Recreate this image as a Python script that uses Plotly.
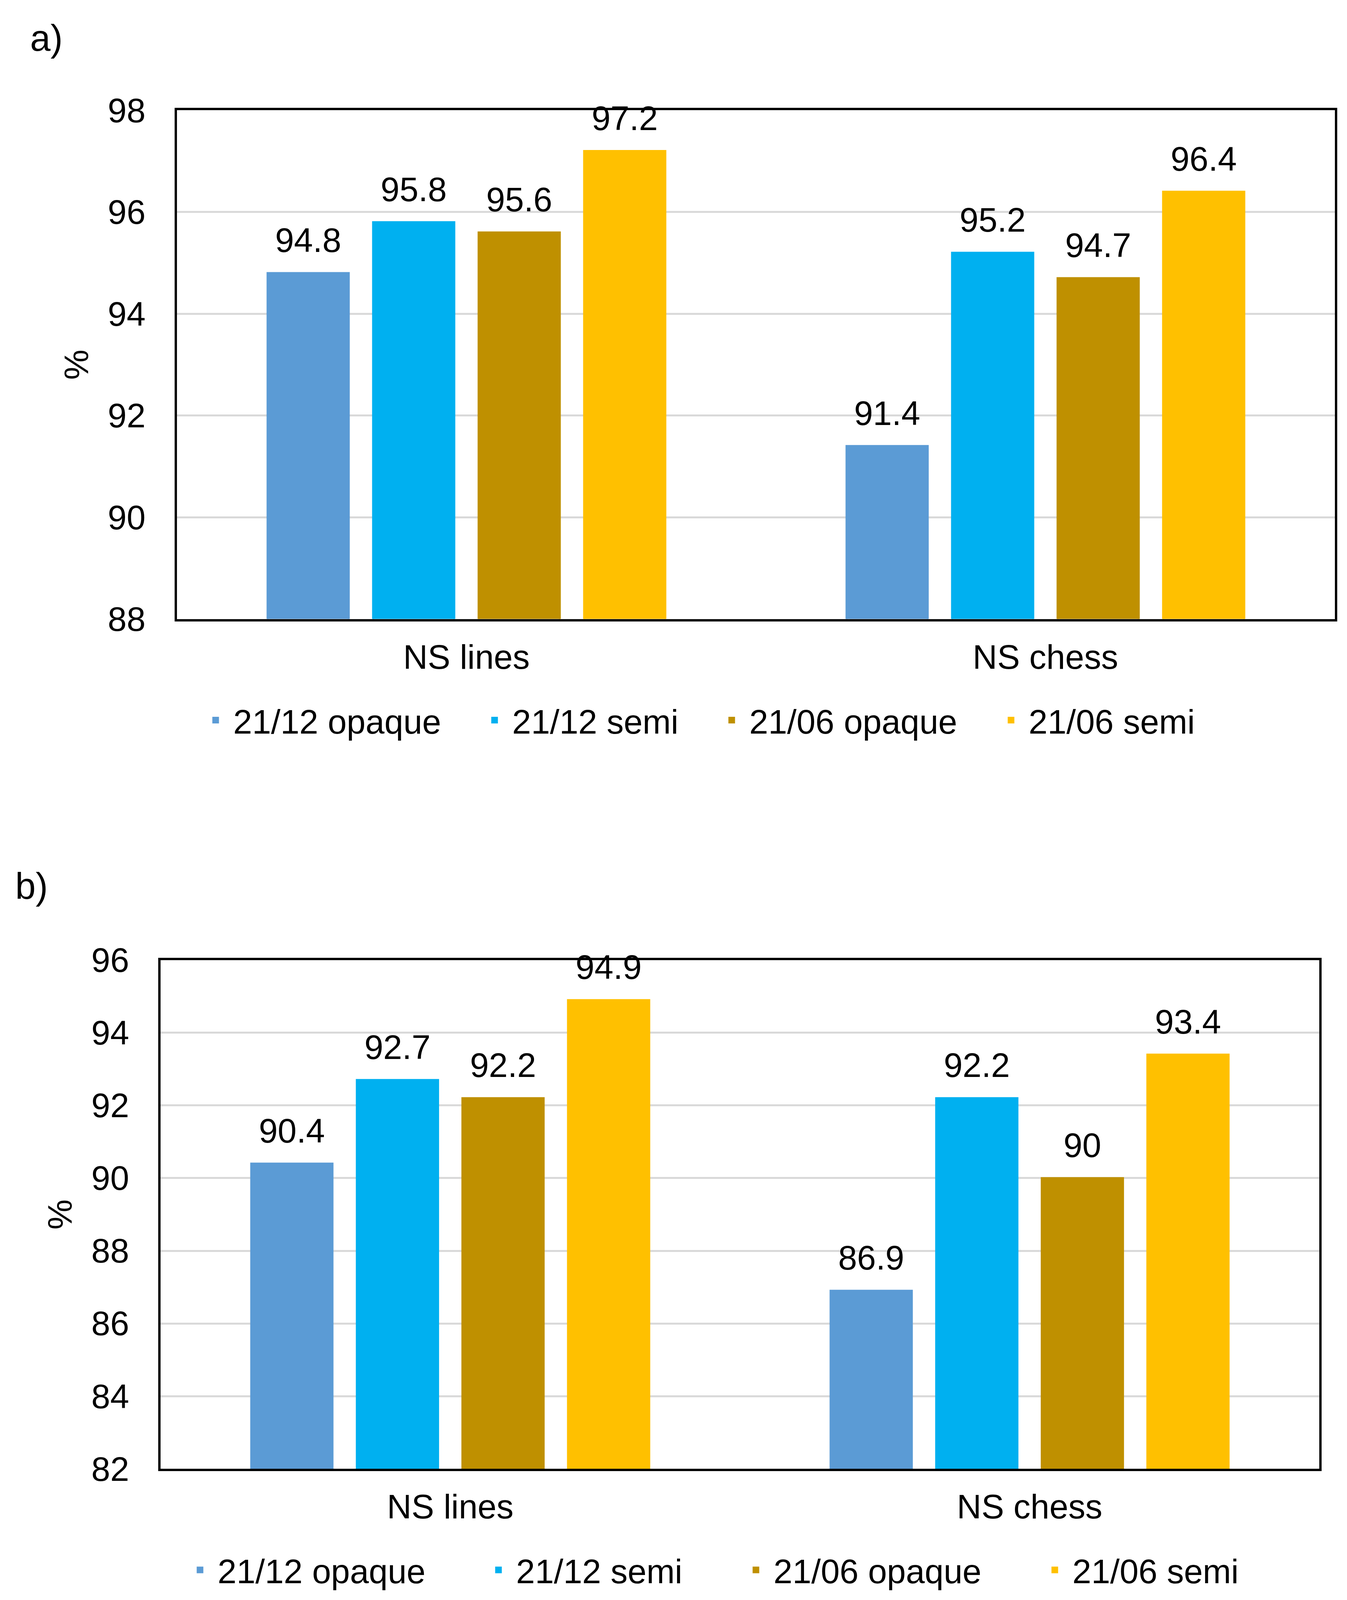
import plotly.graph_objects as go

# reference canvas size (px) used to convert measured positions to fractions
W, H = 3448, 4359
# vertical calibration of the photographed frame (figure fills the inner window)
Y_SCALE, Y_SHIFT = 1.0248, 0.01346


def px_x(px):
    return px / W


def px_y(px):
    t = Y_SCALE * (px / H) - Y_SHIFT
    return 1 - t


categories = ["NS lines", "NS chess"]
series_names = ["21/12 opaque", "21/12 semi", "21/06 opaque", "21/06 semi"]
series_colors = ["#5B9BD5", "#00B0F0", "#BF9000", "#FFC000"]

# panel a)
a_dec_opaque = [94.8, 91.4]
a_dec_semi = [95.8, 95.2]
a_jun_opaque = [95.6, 94.7]
a_jun_semi = [97.2, 96.4]

# panel b)
b_dec_opaque = [90.4, 86.9]
b_dec_semi = [92.7, 92.2]
b_jun_opaque = [92.2, 90.0]
b_jun_semi = [94.9, 93.4]

a_values = [a_dec_opaque, a_dec_semi, a_jun_opaque, a_jun_semi]
b_values = [b_dec_opaque, b_dec_semi, b_jun_opaque, b_jun_semi]

a_yticks = [88, 90, 92, 94, 96, 98]
b_yticks = [82, 84, 86, 88, 90, 92, 94, 96]

FONT = "Liberation Sans, Arial, sans-serif"
FS = 87
BARGAP = 0.271
BARGROUPGAP = 0.23

fig = go.Figure()

panels = [
    ("x", "y", a_values, 0),
    ("x2", "y2", b_values, 4),
]
for xa, ya, vals, legoff in panels:
    for i, (name, col, v) in enumerate(zip(series_names, series_colors, vals)):
        leg = "legend" if legoff + i == 0 else f"legend{legoff + i + 1}"
        fig.add_trace(go.Bar(
            x=categories, y=v, name=name, xaxis=xa, yaxis=ya,
            marker=dict(color=col, line=dict(color=col, width=5)),
            legend=leg, showlegend=True, hoverinfo="skip",
        ))
    for i, (name, col, v) in enumerate(zip(series_names, series_colors, vals)):
        fig.add_trace(go.Scatter(
            x=categories, y=v, xaxis=xa, yaxis=ya, mode="markers+text",
            text=[f"{val:g}" for val in v], textposition="top center",
            textfont=dict(size=FS, color="black", family=FONT),
            marker=dict(size=50, opacity=0, color=col),
            showlegend=False, hoverinfo="skip", cliponaxis=False,
        ))

axis_common = dict(
    showline=True, linecolor="black", linewidth=6, mirror=True,
    tickfont=dict(size=FS, color="black", family=FONT),
    zeroline=False, ticks="",
)

layout_x = dict(
    autosize=True,
    margin=dict(l=0, r=0, t=0, b=0),
    paper_bgcolor="white", plot_bgcolor="white",
    font=dict(family=FONT, size=FS, color="black"),
    barmode="group", bargap=BARGAP, bargroupgap=BARGROUPGAP,
    scattermode="group", scattergap=BARGAP,
    xaxis=dict(domain=[px_x(445), px_x(3409)], anchor="y", type="category",
               showgrid=False, ticklabelstandoff=17, **axis_common),
    yaxis=dict(domain=[px_y(1682), px_y(297)], anchor="x",
               range=[a_yticks[0], a_yticks[-1]], tickvals=a_yticks,
               showgrid=True, gridcolor="#D9D9D9", gridwidth=5,
               ticklabelstandoff=57,
               title=dict(text="%", font=dict(size=FS, color="black", family=FONT), standoff=23),
               **axis_common),
    xaxis2=dict(domain=[px_x(403), px_x(3369)], anchor="y2", type="category",
                showgrid=False, ticklabelstandoff=17, **axis_common),
    yaxis2=dict(domain=[px_y(3996), px_y(2611)], anchor="x2",
                range=[b_yticks[0], b_yticks[-1]], tickvals=b_yticks,
                showgrid=True, gridcolor="#D9D9D9", gridwidth=5,
                ticklabelstandoff=57,
                title=dict(text="%", font=dict(size=FS, color="black", family=FONT), standoff=23),
                **axis_common),
    annotations=[
        dict(text="a)", x=px_x(67), y=1.0, yshift=14, xref="paper", yref="paper",
             xanchor="left", yanchor="top", showarrow=False,
             font=dict(size=94, color="black", family=FONT)),
        dict(text="b)", x=px_x(29), y=px_y(2410), xref="paper", yref="paper",
             xanchor="left", yanchor="middle", showarrow=False,
             font=dict(size=94, color="black", family=FONT)),
    ],
)

# legend entry positions (marker centres, px) for each panel
a_leg_cx = [544, 1258, 1865, 2580]
a_leg_cy = 1958
b_leg_cx = [504, 1268, 1927, 2692]
b_leg_cy = 4272
ITEMW = 80
for k, (cx, cy) in enumerate([(c, a_leg_cy) for c in a_leg_cx] + [(c, b_leg_cy) for c in b_leg_cx]):
    key = "legend" if k == 0 else f"legend{k + 1}"
    layout_x[key] = dict(
        x=px_x(cx - (ITEMW + 10) / 2), y=px_y(cy), xanchor="left", yanchor="middle",
        orientation="h", bgcolor="rgba(0,0,0,0)", borderwidth=0,
        itemwidth=ITEMW, font=dict(size=FS, color="black", family=FONT),
    )

fig.update_layout(**layout_x)
fig.write_html("out.html", config=dict(fillFrame=True, displayModeBar=False))
